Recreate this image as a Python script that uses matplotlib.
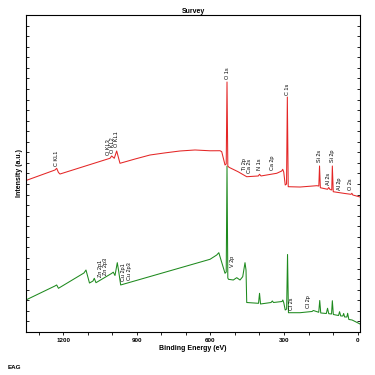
import matplotlib
matplotlib.use('Agg')
import matplotlib.pyplot as plt
from matplotlib.ticker import MultipleLocator

plt.rcParams['font.family'] = ['Liberation Sans', 'DejaVu Sans']

# red (upper) survey spectrum: binding energy (eV) / intensity (a.u.)
red_be = [1352.1, 1233.8, 1226.9, 1219.6, 1213.4, 1009.5, 1002.6, 992.0, 982.2, 968.7,
          907.5, 846.4, 785.2, 724.0, 662.8, 601.6, 560.8, 553.9, 540.4, 535.5, 532.3,
          529.0, 524.1, 487.4, 451.9, 404.6, 399.7, 393.6, 329.6, 309.2, 305.1,
          301.0, 294.9, 289.6, 286.3, 282.7, 234.5, 166.4, 157.9, 155.0, 151.7,
          122.4, 117.5, 112.2, 105.2, 102.8, 99.1, 51.0, 26.5, 23.2, 19.2, -10.2]
red_int = [28.67, 30.66, 30.98, 30.19, 29.90, 32.88, 33.31, 32.88, 34.26, 31.93,
           32.74, 33.50, 33.90, 34.26, 34.45, 34.30, 34.31, 34.13, 31.61, 31.80, 47.32,
           31.42, 31.17, 30.34, 29.39, 29.53, 29.85, 29.53, 30.04, 30.47, 30.79,
           30.28, 27.82, 28.01, 44.48, 27.50, 27.44, 27.69, 27.63, 31.42, 27.31,
           27.01, 27.35, 26.97, 26.88, 31.42, 26.55, 26.21, 26.06, 26.25, 25.93, 25.55]

# green (lower) survey spectrum
green_be = [1352.1, 1233.8, 1226.9, 1219.6, 1115.6, 1107.4, 1093.1, 1078.8, 1073.5, 1066.6,
            1003.4, 996.0, 989.1, 979.7, 974.8, 965.9, 601.6, 574.3, 565.7, 556.8,
            540.4, 535.5, 532.3, 529.0, 526.2, 506.6, 492.7, 479.3, 468.2, 458.9,
            454.8, 451.9, 403.8, 399.7, 395.6, 352.8, 347.5, 342.6, 307.9, 304.7,
            300.6, 294.9, 289.2, 285.5, 281.8, 234.5, 185.6, 180.3, 158.3, 154.2,
            150.1, 127.3, 122.4, 117.5, 106.0, 102.8, 98.7, 77.5, 73.4, 68.5,
            60.0, 56.7, 52.6, 43.6, 40.4, 35.5, 22.4, 10.2, -10.2]
green_int = [6.06, 8.71, 8.90, 8.27, 11.17, 11.73, 9.27, 9.65, 10.16, 9.33,
             11.07, 11.32, 10.69, 13.12, 11.73, 8.90, 13.76, 14.57, 15.01, 13.63,
             11.11, 11.36, 31.40, 10.22, 9.97, 9.84, 10.28, 9.84, 10.47, 13.12,
             11.73, 5.58, 5.43, 7.32, 5.30, 5.58, 5.87, 5.58, 5.77, 6.06,
             5.49, 4.16, 4.35, 14.67, 3.65, 3.65, 3.88, 4.07, 3.73, 5.96,
             3.60, 3.50, 4.49, 3.46, 3.41, 5.92, 3.31, 3.12, 3.84, 3.03,
             3.03, 3.50, 2.84, 2.84, 3.54, 2.37, 2.27, 1.99, 1.51]

# peak labels: text, energy, intensity at label base
red_labels = [('C KL1', 1228, 31.42), ('O KL3', 1016, 33.50), ('O KL2', 1000, 33.82),
              ('O KL1', 982, 35.07), ('O 1s', 532, 47.89), ('C 1s', 286, 44.86),
              ('Ti 2p', 463, 30.66), ('Ca 2s', 440, 30.09), ('N 1s', 400, 30.66),
              ('Ca 2p', 347, 30.66), ('Si 2s', 156, 32.23), ('Al 2s', 119, 27.82),
              ('Si 2p', 103, 32.23), ('Al 2p', 74, 26.88), ('O 2s', 28, 26.88)]
green_labels = [('Zn 2p1', 1050, 10.35), ('Zn 2p3', 1026, 10.79), ('Cu 2p1', 955, 9.65),
                ('Cu 2p3', 931, 9.84), ('V 2p', 509, 12.36), ('Cl 2s', 271, 4.16),
                ('Cl 2p', 201, 4.49)]

fig = plt.figure(figsize=(3.75, 3.75), dpi=100)
ax = fig.add_axes([0.0693, 0.1147, 0.8907, 0.8453])

ax.plot(green_be, green_int, color='#1e8a1e', lw=0.75)
ax.plot(red_be, red_int, color='#e42626', lw=0.75)

for txt, x, y in red_labels + green_labels:
    ax.text(x, y, txt, rotation=90, ha='center', va='bottom', fontsize=4)

ax.set_xlim(1352, -10)
ax.set_ylim(0, 60)
ax.xaxis.set_major_locator(MultipleLocator(300))
ax.xaxis.set_minor_locator(MultipleLocator(100))
ax.yaxis.set_major_locator(MultipleLocator(10))
ax.yaxis.set_minor_locator(MultipleLocator(2))
ax.tick_params(axis='x', which='both', direction='out', length=2.5, width=0.6,
               labelsize=4.5, pad=1.5)
ax.tick_params(axis='y', which='both', left=True, right=True, labelleft=False,
               direction='in', length=2, width=0.6)
for lbl in ax.get_xticklabels():
    lbl.set_fontweight('bold')
for s in ax.spines.values():
    s.set_linewidth(0.8)

ax.set_title('Survey', fontsize=5, fontweight='bold', pad=1.5)
ax.set_xlabel('Binding Energy (eV)', fontsize=5, fontweight='bold', labelpad=2)
ax.set_ylabel('Intensity (a.u.)', fontsize=5, fontweight='bold', labelpad=2)
fig.text(0.019, 0.019, 'EAG', fontsize=4.5, fontweight='bold', ha='left', va='center')

fig.savefig('out.png', dpi=100)
